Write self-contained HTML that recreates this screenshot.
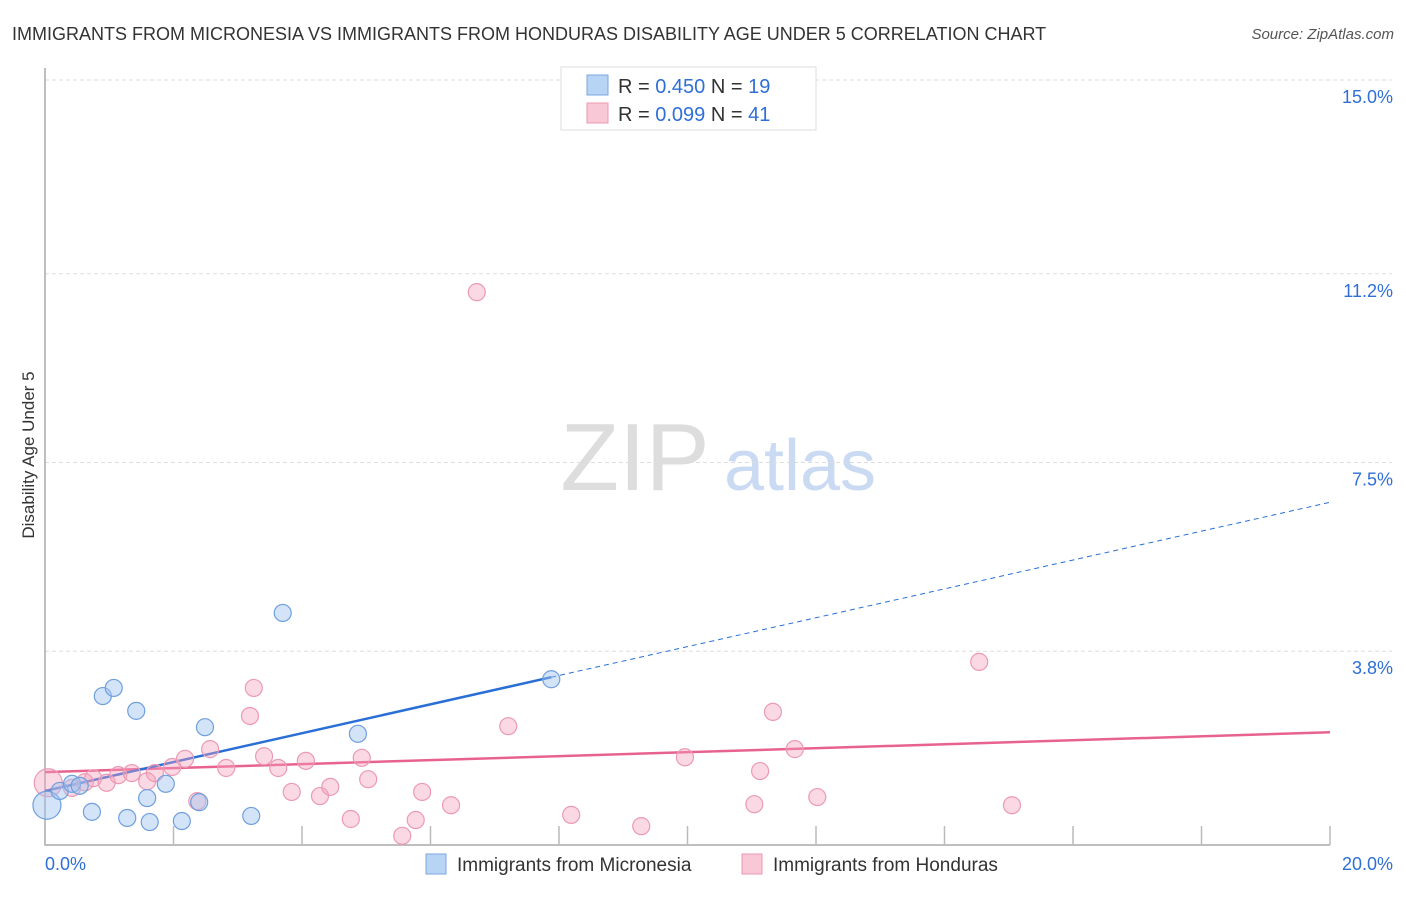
<!DOCTYPE html>
<html><head><meta charset="utf-8"><style>
body{margin:0;background:#fff;font-family:"Liberation Sans",sans-serif}
svg text{font-family:"Liberation Sans",sans-serif}
</style></head><body>
<svg id="chart" width="1406" height="892" xmlns="http://www.w3.org/2000/svg">
<text x="12" y="40" font-size="18" fill="#333">IMMIGRANTS FROM MICRONESIA VS IMMIGRANTS FROM HONDURAS DISABILITY AGE UNDER 5 CORRELATION CHART</text>
<text x="1394" y="39" font-size="15" fill="#555" font-style="italic" text-anchor="end">Source: ZipAtlas.com</text>
<text x="34" y="455" font-size="17" fill="#333" text-anchor="middle" transform="rotate(-90 34 455)">Disability Age Under 5</text>
<g><text x="635" y="490" font-size="96" fill="#ddd" font-family="Liberation Serif" text-anchor="middle">ZIP</text><text x="800" y="490" font-size="72" fill="#c9daf2" text-anchor="middle">atlas</text></g>
<g id="grid"></g><g id="axes"></g><g id="lines"></g><g id="pts"></g>
<g>
<rect x="561" y="67" width="255" height="63" fill="#fff" stroke="#ddd"/>
<rect x="587" y="75" width="21" height="20" fill="#b8d4f5" stroke="#7ba6e0"/>
<rect x="587" y="103" width="21" height="20" fill="#f9c8d6" stroke="#eb98b0"/>
<text x="618" y="93" font-size="20" fill="#333">R = <tspan fill="#2f6fd6">0.450</tspan>   N = <tspan fill="#2f6fd6">19</tspan></text>
<text x="618" y="121" font-size="20" fill="#333">R = <tspan fill="#2f6fd6">0.099</tspan>   N = <tspan fill="#2f6fd6">41</tspan></text>
</g>
<g>
<rect x="426" y="854" width="20" height="20" fill="#b8d4f5" stroke="#7ba6e0"/>
<text x="457" y="871" font-size="19" fill="#333">Immigrants from Micronesia</text>
<rect x="742" y="854" width="20" height="20" fill="#f9c8d6" stroke="#eb98b0"/>
<text x="773" y="871" font-size="19" fill="#333">Immigrants from Honduras</text>
</g>
</svg>
<script>
const yTicks=[3.8,7.5,11.2,15.0];
const yTickLabels=["3.8%","7.5%","11.2%","15.0%"];
const xTickLabels=["0.0%","20.0%"];
const blueX=[0.03,0.23,0.42,0.54,0.73,0.90,1.07,1.28,1.42,1.59,1.63,1.88,2.13,2.40,2.49,3.21,3.70,4.87,7.88];
const blueY=[0.78,1.06,1.20,1.16,0.65,2.92,3.08,0.53,2.63,0.92,0.45,1.20,0.47,0.84,2.31,0.57,4.55,2.18,3.25];
const pinkX=[0.05,0.42,0.62,0.75,0.96,1.14,1.35,1.59,1.71,1.98,2.18,2.37,2.57,2.82,3.19,3.25,3.41,3.63,3.84,4.06,4.28,4.44,4.76,4.93,5.03,5.56,5.77,5.87,6.32,6.72,7.21,8.19,9.28,9.96,11.04,11.13,11.33,11.67,12.02,14.54,15.05];
const pinkY=[1.22,1.12,1.23,1.31,1.22,1.37,1.41,1.25,1.41,1.53,1.69,0.86,1.88,1.51,2.53,3.08,1.74,1.51,1.04,1.65,0.96,1.14,0.51,1.71,1.29,0.18,0.49,1.04,0.78,10.84,2.33,0.59,0.37,1.72,0.80,1.45,2.61,1.88,0.94,3.59,0.78];
const blueLine=[1.06,6.72], blueSolidEnd=7.88;
const pinkLine=[1.43,2.21];
const NS="http://www.w3.org/2000/svg";
const X=v=>45+v/20*1285, Y=v=>845-v/15*765;
function mk(p,t,a){const e=document.createElementNS(NS,t);for(const k in a)e.setAttribute(k,a[k]);document.getElementById(p).appendChild(e);return e;}
yTicks.forEach((t,i)=>{
 const g=mk('grid','line',{x1:45,x2:1392,y1:Y(t),y2:Y(t),stroke:'#ddd','stroke-dasharray':'4,3'});
 
 
 const tx=mk('grid','text',{x:1393,y:Y(t)+23,'font-size':18,fill:'#2f6fd6','text-anchor':'end'});tx.textContent=yTickLabels[i];
 
 
});
const ax=mk('axes','path',{d:'M45,68V845H1330',fill:'none',stroke:'#aaa','stroke-width':1.5});


for(let i=1;i<=10;i++){const t=mk('axes','line',{x1:X(i*2),x2:X(i*2),y1:826,y2:845,stroke:'#bbb','stroke-width':1.5});
 
 }
[[0,'start',45],[20,'end',1393]].forEach((d,i)=>{const t=mk('axes','text',{x:d[2],y:870,'font-size':18,fill:'#2f6fd6','text-anchor':d[1]});t.textContent=xTickLabels[i];
 
 });
const by=x=>blueLine[0]+(blueLine[1]-blueLine[0])*x/20;
const pl=mk('lines','line',{x1:X(0),y1:Y(pinkLine[0]),x2:X(20),y2:Y(pinkLine[1]),stroke:'#e8628f','stroke-width':2.5});


const bl=mk('lines','line',{x1:X(0),y1:Y(by(0)),x2:X(blueSolidEnd),y2:Y(by(blueSolidEnd)),stroke:'#2a6fd6','stroke-width':2.5});


const bd=mk('lines','line',{x1:X(blueSolidEnd),y1:Y(by(blueSolidEnd)),x2:X(20),y2:Y(by(20)),stroke:'#2a6fd6','stroke-width':1,'stroke-dasharray':'5,4'});


pinkX.forEach((x,i)=>{const c=mk('pts','circle',{cx:X(x),cy:Y(pinkY[i]),r:i==0?14:8.5,fill:'rgba(244,160,188,0.4)',stroke:'#ec9ab3','stroke-width':1.2});
 
 });
blueX.forEach((x,i)=>{const c=mk('pts','circle',{cx:X(x),cy:Y(blueY[i]),r:i==0?14:8.5,fill:'rgba(160,196,240,0.45)',stroke:'#6f9fdf','stroke-width':1.2});
 
 });
</script>
</body></html>
